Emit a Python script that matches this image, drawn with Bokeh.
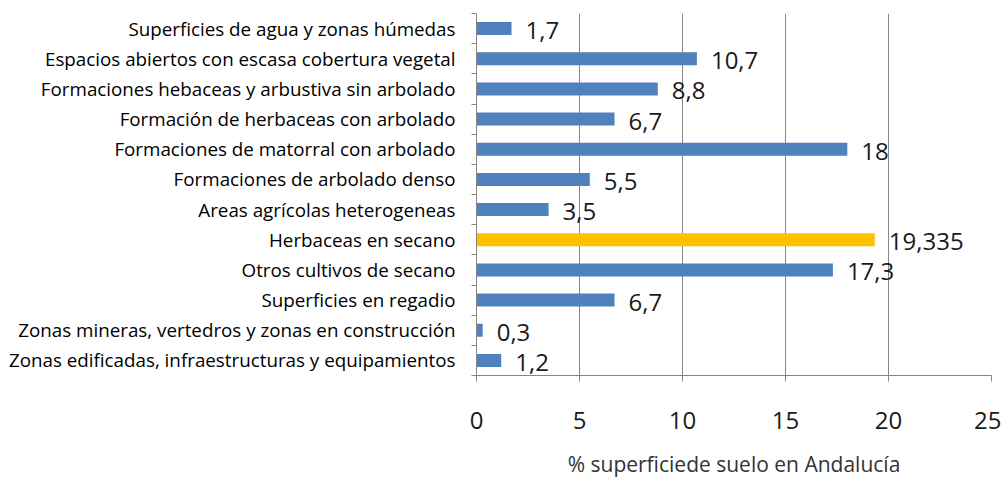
from bokeh.plotting import figure
from bokeh.models import ColumnDataSource, Range1d, FixedTicker, LabelSet
from bokeh.core.properties import value
from bokeh.embed import file_html
from bokeh.resources import INLINE

categories = [
    "Superficies de agua y zonas húmedas",
    "Espacios abiertos con escasa cobertura vegetal",
    "Formaciones hebaceas y arbustiva sin arbolado",
    "Formación de herbaceas con arbolado",
    "Formaciones de matorral con arbolado",
    "Formaciones de arbolado denso",
    "Areas agrícolas heterogeneas",
    "Herbaceas en secano",
    "Otros cultivos de secano",
    "Superficies en regadio",
    "Zonas mineras, vertedros y zonas en construcción",
    "Zonas edificadas, infraestructuras y equipamientos",
]
values = [1.7, 10.7, 8.8, 6.7, 18, 5.5, 3.5, 19.335, 17.3, 6.7, 0.3, 1.2]
highlight = "Herbaceas en secano"
x_ticks = [0, 5, 10, 15, 20, 25]
x_title = "% superficiede suelo en Andalucía"

n = len(categories)
ypos = [n - i - 0.5 for i in range(n)]
colors = ["#FFC000" if c == highlight else "#4F81BD" for c in categories]
labels = [f"{v:g}".replace(".", ",") for v in values]

src = ColumnDataSource(dict(y=ypos, v=values, c=colors, lab=labels))

p = figure(frame_width=515, frame_height=362, output_backend="svg", toolbar_location=None,
           x_range=Range1d(0, 25), y_range=Range1d(0, n),
           min_border_left=476, min_border_right=10, min_border_top=13, min_border_bottom=4)
p.outline_line_color = None
p.background_fill_color = "white"

p.hbar(y="y", right="v", left=0, height=0.43, fill_color="c", line_color=None, source=src)

lbl = LabelSet(x="v", y="y", text="lab", source=src, x_offset=14, y_offset=-2,
               text_baseline="middle", text_font=value("Open Sans"), text_font_size="24px",
               text_color="#1a1a1a")
p.add_layout(lbl)

# x axis
p.xaxis.ticker = FixedTicker(ticks=x_ticks, minor_ticks=[])
p.xaxis.axis_line_color = "#868686"
p.xaxis.major_tick_line_color = "#868686"
p.xaxis.major_tick_out = 6
p.xaxis.major_tick_in = 0
p.xaxis.major_label_standoff = 30
p.xaxis.major_label_text_font = "Open Sans"
p.xaxis.major_label_text_font_size = "24px"
p.xaxis.major_label_text_color = "#1a1a1a"
p.xaxis.axis_label = x_title
p.xaxis.axis_label_standoff = 18
p.xaxis.axis_label_text_font = "Open Sans"
p.xaxis.axis_label_text_font_size = "21px"
p.xaxis.axis_label_text_font_style = "normal"
p.xaxis.axis_label_text_color = "#333333"

# y axis
p.yaxis.ticker = FixedTicker(ticks=ypos, minor_ticks=list(range(n + 1)))
p.yaxis.major_label_overrides = {y: c for y, c in zip(ypos, categories)}
p.yaxis.axis_line_color = "#868686"
p.yaxis.major_tick_line_color = None
p.yaxis.major_tick_out = 0
p.yaxis.minor_tick_line_color = "#868686"
p.yaxis.minor_tick_out = 5
p.yaxis.minor_tick_in = 0
p.yaxis.major_label_standoff = 16
p.yaxis.major_label_text_font = "Open Sans"
p.yaxis.major_label_text_font_size = "18.8px"
p.yaxis.major_label_text_color = "#000000"

p.xgrid.ticker = FixedTicker(ticks=x_ticks[1:])
p.xgrid.grid_line_color = "#868686"
p.ygrid.grid_line_color = None

open("out.html", "w").write(file_html(p, INLINE))
